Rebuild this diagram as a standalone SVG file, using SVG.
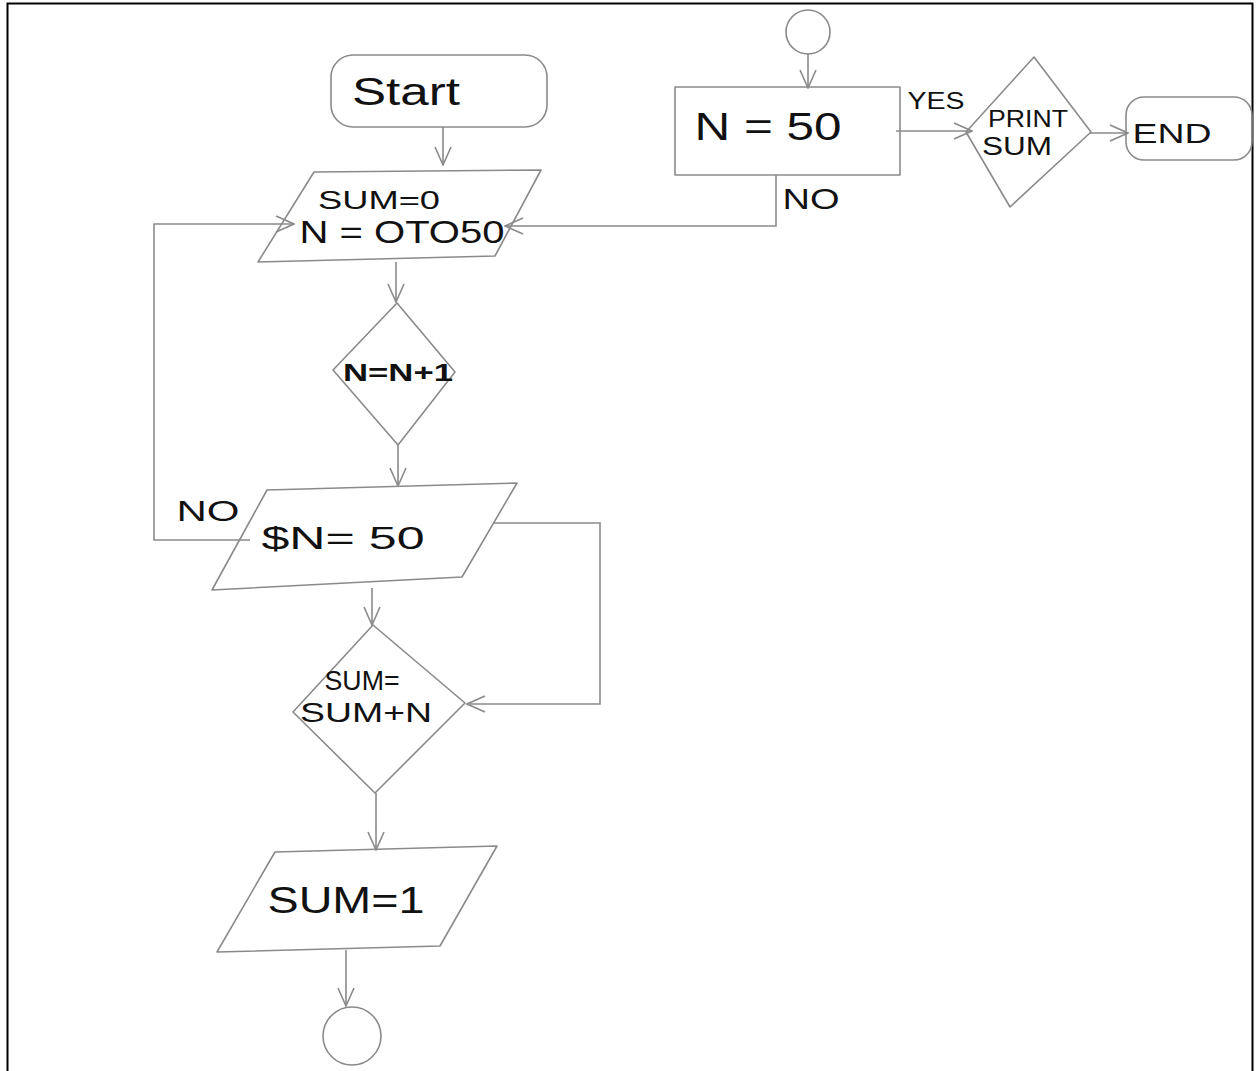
<svg xmlns="http://www.w3.org/2000/svg" width="1256" height="1071" viewBox="0 0 1256 1071">
<style>
.shape{fill:none;stroke:#8a8a8a;stroke-width:1.6;stroke-linejoin:round}
.line{fill:none;stroke:#8a8a8a;stroke-width:1.6}
.t{font-family:"Liberation Sans",Arial,sans-serif;fill:#111;text-anchor:middle;dominant-baseline:central}
</style>
<defs>
<marker id="arr" viewBox="0 0 20 20" refX="19" refY="10" markerWidth="20" markerHeight="20" markerUnits="userSpaceOnUse" orient="auto">
<path d="M1,2 L19,10 L1,18" fill="none" stroke="#8a8a8a" stroke-width="1.6"/>
</marker>
</defs>
<rect x="0" y="0" width="1256" height="1071" fill="#fff"/>
<path d="M7.5,1100 V3.5 H1252.5 V1100" fill="none" stroke="#000" stroke-width="2"/>

<g id="connectors">
<path class="line" d="M443,127 V165" marker-end="url(#arr)"/>
<path class="line" d="M776,175 V226 H505" marker-end="url(#arr)"/>
<path class="line" d="M250,540 H154 V224 H294" marker-end="url(#arr)"/>
<path class="line" d="M396,262 V302" marker-end="url(#arr)"/>
<path class="line" d="M398,445 V486" marker-end="url(#arr)"/>
<path class="line" d="M494,523 H600 V704 H467" marker-end="url(#arr)"/>
<path class="line" d="M372,588 V625" marker-end="url(#arr)"/>
<path class="line" d="M376,793 V850" marker-end="url(#arr)"/>
<path class="line" d="M346,950 V1006" marker-end="url(#arr)"/>
<path class="line" d="M808,54 V88" marker-end="url(#arr)"/>
<path class="line" d="M896,131 H972" marker-end="url(#arr)"/>
<path class="line" d="M1090,133 H1128" marker-end="url(#arr)"/>
<text class="t" x="936" y="100" font-size="24" textLength="57" lengthAdjust="spacingAndGlyphs">YES</text>
<text class="t" x="811" y="198" font-size="30" textLength="57" lengthAdjust="spacingAndGlyphs">NO</text>
<text class="t" x="208" y="510" font-size="30" textLength="63" lengthAdjust="spacingAndGlyphs">NO</text>
</g>

<g id="start">
<rect class="shape" x="331" y="55" width="216" height="72" rx="22"/>
<text class="t" x="406" y="92" font-size="38" textLength="108" lengthAdjust="spacingAndGlyphs">Start</text>
</g>

<g id="init">
<path class="shape" d="M314,172 L541,170 L495,256 L258,262 Z"/>
<text class="t" x="379" y="200" font-size="25" textLength="122" lengthAdjust="spacingAndGlyphs">SUM=0</text>
<text class="t" x="402" y="232" font-size="32" textLength="205" lengthAdjust="spacingAndGlyphs">N = OTO50</text>
</g>

<g id="incr">
<path class="shape" d="M397,303 L455,372 L398,445 L333,370 Z"/>
<text class="t" x="398" y="372" font-size="24" font-weight="bold" textLength="110" lengthAdjust="spacingAndGlyphs">N=N+1</text>
</g>

<g id="check1">
<path class="shape" d="M267,490 L517,483 L462,577 L212,590 Z"/>
<text class="t" x="343" y="538" font-size="32" textLength="163" lengthAdjust="spacingAndGlyphs">$N= 50</text>
</g>

<g id="accum">
<path class="shape" d="M373,625 L465,703 L375,793 L293,712 Z"/>
<text class="t" x="362" y="680" font-size="28" textLength="75" lengthAdjust="spacingAndGlyphs">SUM=</text>
<text class="t" x="366" y="712" font-size="28" textLength="132" lengthAdjust="spacingAndGlyphs">SUM+N</text>
</g>

<g id="setsum">
<path class="shape" d="M275,852 L497,846 L440,946 L217,952 Z"/>
<text class="t" x="346" y="900" font-size="36" textLength="157" lengthAdjust="spacingAndGlyphs">SUM=1</text>
</g>

<g id="connector-bottom">
<circle class="shape" cx="352" cy="1036" r="29"/>
</g>

<g id="connector-top">
<circle class="shape" cx="808" cy="32" r="22"/>
</g>

<g id="check2">
<rect class="shape" x="675" y="87" width="225" height="88"/>
<text class="t" x="768" y="127" font-size="38" textLength="147" lengthAdjust="spacingAndGlyphs">N = 50</text>
</g>

<g id="print">
<path class="shape" d="M1034,57 L1091,132 L1010,207 L966,132 Z"/>
<text class="t" x="1028" y="118" font-size="24" textLength="80" lengthAdjust="spacingAndGlyphs">PRINT</text>
<text class="t" x="1017" y="146" font-size="26" textLength="70" lengthAdjust="spacingAndGlyphs">SUM</text>
</g>

<g id="end">
<rect class="shape" x="1126" y="97" width="126" height="63" rx="18"/>
<text class="t" x="1172" y="133" font-size="28" textLength="79" lengthAdjust="spacingAndGlyphs">END</text>
</g>
</svg>
